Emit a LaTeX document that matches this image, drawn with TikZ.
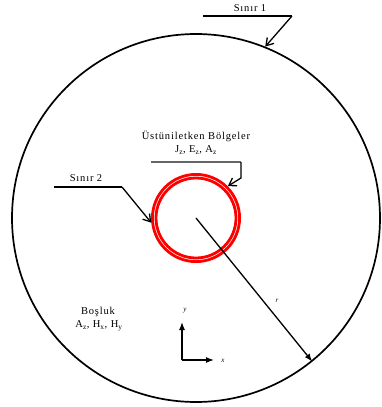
\documentclass[tikz,border=0pt]{standalone}
\usepackage{fontspec}
\setmainfont{Liberation Serif}
\newfontfamily\lblfont[LetterSpace=8]{Liberation Serif}
\usetikzlibrary{arrows.meta}
\begin{document}
\begin{tikzpicture}[x=1pt,y=-1pt,
  lbl/.style={font=\lblfont\fontsize{10.5}{11}\selectfont, inner sep=0pt, align=center},
  axlbl/.style={font=\itshape\fontsize{7}{8}\selectfont, inner sep=0pt},
  callout/.style={line width=1.3pt, -{Straight Barb[length=7pt,width=9pt]}},
  redring/.style={circle, draw=red, line width=2.8pt, inner sep=0pt},
  filledarrow/.style={line width=1.3pt, -{Latex[length=8pt,width=6pt]}}]
\useasboundingbox (0,0) rectangle (381,407);
% main domain
\coordinate (c) at (196,218);
\node[circle, draw, line width=1.7pt, minimum size=368pt, inner sep=0pt] (outer) at (c) {};
% superconducting rings
\node[redring, minimum size=87.2pt] (ringo) at (c) {};
\node[redring, minimum size=80pt] (ringi) at (c) {};
% radius arrow
\draw[filledarrow] (c) -- (outer.-51);
\node[axlbl] (rl) at (277,301) {r};
% Boundary 1
\node[lbl] (s1) at (250,8) {Sınır 1};
\coordinate (s1a) at (203,16);
\coordinate (s1b) at (292,16);
\draw[line width=1.8pt] (s1a) -- (s1b);
\draw[callout] (s1b) -- (outer.68);
% Boundary 2
\node[lbl] (s2) at (86,178) {Sınır 2};
\coordinate (s2a) at (54,187);
\coordinate (s2b) at (122,187);
\draw[line width=1.5pt] (s2a) -- (s2b);
\draw[callout] (s2b) -- (ringo.186);
% Superconducting regions
\node[lbl] (us) at (196,136) {Üstüniletken Bölgeler};
\node[lbl] (usv) at (196,150) {J\textsubscript{z}, E\textsubscript{z}, A\textsubscript{z}};
\coordinate (ua) at (151,162);
\coordinate (ub) at (241,162);
\coordinate (uc) at (241,178);
\draw[line width=2.4pt, draw=black!60] (ua) -- (ub);
\draw[callout] (ub) -- (uc) -- (ringo.45);
% Gap region
\node[lbl] (bo) at (98,312) {Boşluk};
\node[lbl] (bov) at (99,326) {A\textsubscript{z}, H\textsubscript{x}, H\textsubscript{y}};
% axes
\coordinate (o) at (182,360);
\coordinate (oy) at (182,322);
\coordinate (ox) at (214,360);
\draw[filledarrow] (o) -- (oy);
\draw[filledarrow] (o) -- (ox);
\node[axlbl] (yl) at (185,311) {y};
\node[axlbl] (xl) at (223,361) {x};
\end{tikzpicture}
\end{document}
